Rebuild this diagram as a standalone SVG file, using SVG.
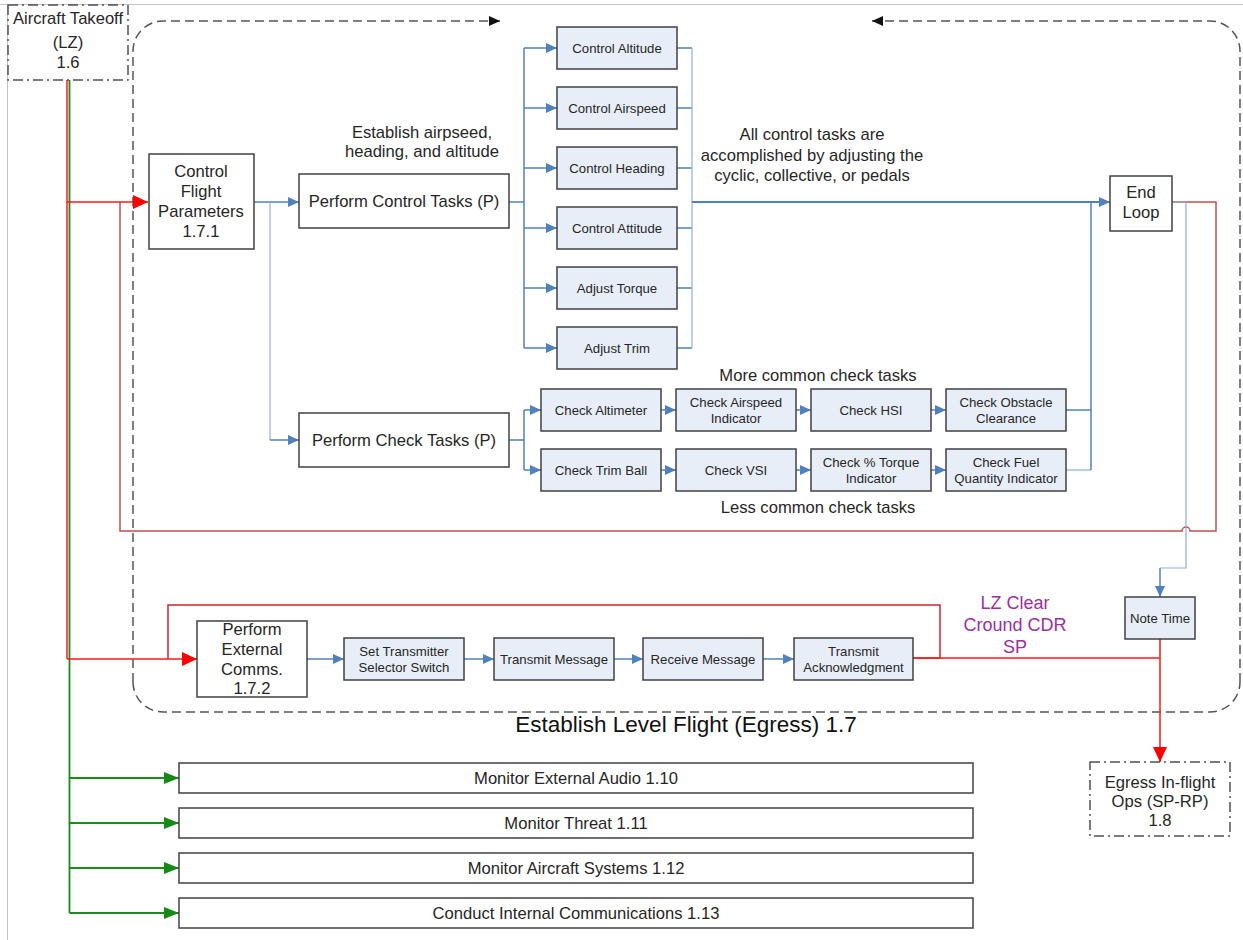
<svg xmlns="http://www.w3.org/2000/svg" width="1243" height="940" viewBox="0 0 1243 940">
  <defs>
    <style>
      text { font-family: "Liberation Sans", Arial, sans-serif; fill: #262626; text-anchor: middle; }
      .t16 { font-size: 16.6px; }
      .t13 { font-size: 13.2px; }
      .title { font-size: 22.5px; fill: #111; }
      .purple { font-size: 18px; fill: #9b2f9e; }
      .box { fill: #ffffff; stroke: #404040; stroke-width: 1.5; }
      .task { fill: #e8eef8; stroke: #404040; stroke-width: 1.5; }
      .ext { fill: #ffffff; stroke: #505050; stroke-width: 1.5; stroke-dasharray: 10 4 2 4; }
      .frame { stroke: #c4c4c4; stroke-width: 1; fill: none; }
      .group { fill: none; stroke: #555555; stroke-width: 1.5; stroke-dasharray: 9 5; }
      .blue { fill: none; stroke: #4f81bd; stroke-width: 1.5; }
      .blue-thick { fill: none; stroke: #4f81bd; stroke-width: 2.2; }
      .blue-thin { fill: none; stroke: #8eb0e0; stroke-width: 1.2; }
      .red { fill: none; stroke: #ff1a1a; stroke-width: 1.5; }
      .darkred { fill: none; stroke: #c0504d; stroke-width: 1.5; }
      .loopred { fill: none; stroke: #c8282a; stroke-width: 1.5; }
      .green { fill: none; stroke: #1a8c1a; stroke-width: 1.8; }
    </style>
    <marker id="arrBlue" markerUnits="userSpaceOnUse" markerWidth="12" markerHeight="10" refX="11" refY="5" orient="auto">
      <path d="M0,0 L11,5 L0,10 Z" fill="#4f81bd"/>
    </marker>
    <marker id="arrRed" markerUnits="userSpaceOnUse" markerWidth="16" markerHeight="14" refX="15" refY="7" orient="auto">
      <path d="M0,0 L15,7 L0,14 Z" fill="#ff0000"/>
    </marker>
    <marker id="arrGreen" markerUnits="userSpaceOnUse" markerWidth="16" markerHeight="14" refX="15" refY="6" orient="auto">
      <path d="M0,0 L15,6 L0,12 Z" fill="#158a15"/>
    </marker>
    <marker id="arrBlack" markerUnits="userSpaceOnUse" markerWidth="12" markerHeight="10" refX="11" refY="5" orient="auto">
      <path d="M0,0 L11,5 L0,10 Z" fill="#111111"/>
    </marker>
  </defs>

  <rect width="1243" height="940" fill="#ffffff"/>

  <!-- page frame -->
  <line class="frame" x1="0" y1="4.5" x2="1243" y2="4.5"/>
  <line class="frame" x1="7.5" y1="4" x2="7.5" y2="940"/>

  <!-- level-flight container (dashed, open at the top with loop arrows) -->
  <g id="container-1-7">
    <path class="group" d="M133,682 L133,51 A30,30 0 0 1 163,21 L500,21" marker-end="url(#arrBlack)"/>
    <path class="group" d="M1240,682 L1240,51 A30,30 0 0 0 1210,21 L872,21" marker-end="url(#arrBlack)"/>
    <path class="group" d="M133,682 A30,30 0 0 0 163,712 L1210,712 A30,30 0 0 0 1240,682"/>
    <text class="title" x="686" y="732">Establish Level Flight (Egress) 1.7</text>
  </g>

  <!-- connectors -->
  <g id="connectors">
    <!-- from takeoff: red feeds into the level-flight functions, green into monitoring -->
    <line class="red" x1="67" y1="80" x2="67" y2="659"/>
    <line class="green" x1="69.5" y1="80" x2="69.5" y2="913"/>
    <path class="red" d="M67,202 L148,202" marker-end="url(#arrRed)"/>
    <path class="red" d="M67,659 L197,659" marker-end="url(#arrRed)"/>
    <path class="green" d="M69.5,778 L179,778" marker-end="url(#arrGreen)"/>
    <path class="green" d="M69.5,823 L179,823" marker-end="url(#arrGreen)"/>
    <path class="green" d="M69.5,868 L179,868" marker-end="url(#arrGreen)"/>
    <path class="green" d="M69.5,913 L179,913" marker-end="url(#arrGreen)"/>

    <!-- control flight parameters to task groups -->
    <path class="blue" d="M254,202 L299,202" marker-end="url(#arrBlue)"/>
    <path class="blue-thin" d="M270,202 L270,440"/>
    <path class="blue" d="M270,440 L299,440" marker-end="url(#arrBlue)"/>

    <!-- control task fan-out -->
    <path class="blue" d="M509,202 L524,202"/>
    <path class="blue" d="M524,48 L524,348"/>
    <path class="blue" d="M524,48 L557,48" marker-end="url(#arrBlue)"/>
    <path class="blue" d="M524,108 L557,108" marker-end="url(#arrBlue)"/>
    <path class="blue" d="M524,168 L557,168" marker-end="url(#arrBlue)"/>
    <path class="blue" d="M524,228 L557,228" marker-end="url(#arrBlue)"/>
    <path class="blue" d="M524,288 L557,288" marker-end="url(#arrBlue)"/>
    <path class="blue" d="M524,348 L557,348" marker-end="url(#arrBlue)"/>

    <!-- control task fan-in -->
    <path class="blue" d="M677,48 L692,48 M677,108 L692,108 M677,168 L692,168 M677,228 L692,228 M677,288 L692,288 M677,348 L692,348"/>
    <path class="blue-thin" d="M692,48 L692,348"/>
    <path class="blue-thick" d="M692,202 L1110,202" marker-end="url(#arrBlue)"/>

    <!-- check task rows -->
    <path class="blue" d="M509,440 L524,440 M524,410 L524,470"/>
    <path class="blue" d="M524,410 L541,410" marker-end="url(#arrBlue)"/>
    <path class="blue" d="M524,470 L541,470" marker-end="url(#arrBlue)"/>
    <path class="blue" d="M661,410 L676,410" marker-end="url(#arrBlue)"/>
    <path class="blue" d="M796,410 L811,410" marker-end="url(#arrBlue)"/>
    <path class="blue" d="M931,410 L946,410" marker-end="url(#arrBlue)"/>
    <path class="blue" d="M661,470 L676,470" marker-end="url(#arrBlue)"/>
    <path class="blue" d="M796,470 L811,470" marker-end="url(#arrBlue)"/>
    <path class="blue" d="M931,470 L946,470" marker-end="url(#arrBlue)"/>
    <path class="blue" d="M1066,410 L1091,410"/>
    <path class="blue-thin" d="M1066,470 L1091,470"/>
    <path class="blue" d="M1091,470 L1091,202"/>

    <!-- loop back from End Loop -->
    <path class="darkred" d="M1172,202 L1216,202 L1216,531 L1190,531 A4,4 0 0 0 1182,531 L120,531 L120,202"/>
    <path class="blue-thin" d="M1172,202 L1186,202 L1186,568 L1160,568"/>
    <path class="blue" d="M1160,568 L1160,597" marker-end="url(#arrBlue)"/>

    <!-- external comms chain -->
    <path class="blue" d="M307,659 L344,659" marker-end="url(#arrBlue)"/>
    <path class="blue" d="M464,659 L494,659" marker-end="url(#arrBlue)"/>
    <path class="blue" d="M614,659 L643,659" marker-end="url(#arrBlue)"/>
    <path class="blue" d="M763,659 L794,659" marker-end="url(#arrBlue)"/>
    <path class="loopred" d="M913,658 L940,658 L940,605 L168,605 L168,659"/>
    <path class="red" d="M913,658 L1160,658"/>

    <!-- exit to egress in-flight ops -->
    <path class="red" d="M1160,639 L1160,762" marker-end="url(#arrRed)"/>
  </g>

  <!-- free labels -->
  <g id="labels">
    <text class="t16" x="422" y="138">Establish airpseed,</text>
    <text class="t16" x="422" y="157">heading, and altitude</text>
    <text class="t16" x="812" y="140">All control tasks are</text>
    <text class="t16" x="812" y="161">accomplished by adjusting the</text>
    <text class="t16" x="812" y="181">cyclic, collective, or pedals</text>
    <text class="t16" x="818" y="381">More common check tasks</text>
    <text class="t16" x="818" y="513">Less common check tasks</text>
    <text class="purple" x="1015" y="609">LZ Clear</text>
    <text class="purple" x="1015" y="631">Cround CDR</text>
    <text class="purple" x="1015" y="653">SP</text>
  </g>

  <!-- nodes -->
  <g id="aircraft-takeoff">
    <rect class="ext" x="8" y="5" width="120" height="75"/>
    <text class="t16" x="68" y="24">Aircraft Takeoff</text>
    <text class="t16" x="68" y="48">(LZ)</text>
    <text class="t16" x="68" y="68">1.6</text>
  </g>

  <g id="control-flight-parameters">
    <rect class="box" x="149" y="154" width="105" height="95"/>
    <text class="t16" x="201" y="177">Control</text>
    <text class="t16" x="201" y="197">Flight</text>
    <text class="t16" x="201" y="217">Parameters</text>
    <text class="t16" x="201" y="237">1.7.1</text>
  </g>

  <g id="perform-control-tasks">
    <rect class="box" x="299" y="174" width="210" height="54"/>
    <text class="t16" x="404" y="207">Perform Control Tasks (P)</text>
  </g>

  <g id="perform-check-tasks">
    <rect class="box" x="299" y="413" width="210" height="54"/>
    <text class="t16" x="404" y="446">Perform Check Tasks (P)</text>
  </g>

  <g id="control-altitude"><rect class="task" x="557" y="27" width="120" height="42"/><text class="t13" x="617" y="52.5">Control Altitude</text></g>
  <g id="control-airspeed"><rect class="task" x="557" y="87" width="120" height="42"/><text class="t13" x="617" y="112.5">Control Airspeed</text></g>
  <g id="control-heading"><rect class="task" x="557" y="147" width="120" height="42"/><text class="t13" x="617" y="172.5">Control Heading</text></g>
  <g id="control-attitude"><rect class="task" x="557" y="207" width="120" height="42"/><text class="t13" x="617" y="232.5">Control Attitude</text></g>
  <g id="adjust-torque"><rect class="task" x="557" y="267" width="120" height="42"/><text class="t13" x="617" y="292.5">Adjust Torque</text></g>
  <g id="adjust-trim"><rect class="task" x="557" y="327" width="120" height="42"/><text class="t13" x="617" y="352.5">Adjust Trim</text></g>

  <g id="check-altimeter"><rect class="task" x="541" y="389" width="120" height="42"/><text class="t13" x="601" y="414.5">Check Altimeter</text></g>
  <g id="check-airspeed-indicator"><rect class="task" x="676" y="389" width="120" height="42"/><text class="t13" x="736" y="406.5">Check Airspeed</text><text class="t13" x="736" y="422.5">Indicator</text></g>
  <g id="check-hsi"><rect class="task" x="811" y="389" width="120" height="42"/><text class="t13" x="871" y="414.5">Check HSI</text></g>
  <g id="check-obstacle-clearance"><rect class="task" x="946" y="389" width="120" height="42"/><text class="t13" x="1006" y="406.5">Check Obstacle</text><text class="t13" x="1006" y="422.5">Clearance</text></g>

  <g id="check-trim-ball"><rect class="task" x="541" y="449" width="120" height="42"/><text class="t13" x="601" y="474.5">Check Trim Ball</text></g>
  <g id="check-vsi"><rect class="task" x="676" y="449" width="120" height="42"/><text class="t13" x="736" y="474.5">Check VSI</text></g>
  <g id="check-torque-indicator"><rect class="task" x="811" y="449" width="120" height="42"/><text class="t13" x="871" y="466.5">Check % Torque</text><text class="t13" x="871" y="482.5">Indicator</text></g>
  <g id="check-fuel-quantity"><rect class="task" x="946" y="449" width="120" height="42"/><text class="t13" x="1006" y="466.5">Check Fuel</text><text class="t13" x="1006" y="482.5">Quantity Indicator</text></g>

  <g id="end-loop">
    <rect class="box" x="1110" y="176" width="62" height="55"/>
    <text class="t16" x="1141" y="198">End</text>
    <text class="t16" x="1141" y="218">Loop</text>
  </g>

  <g id="note-time">
    <rect class="task" x="1125" y="597" width="70" height="42"/>
    <text class="t13" x="1160" y="622.5">Note Time</text>
  </g>

  <g id="perform-external-comms">
    <rect class="box" x="197" y="621" width="110" height="76"/>
    <text class="t16" x="252" y="635">Perform</text>
    <text class="t16" x="252" y="655">External</text>
    <text class="t16" x="252" y="675">Comms.</text>
    <text class="t16" x="252" y="694">1.7.2</text>
  </g>

  <g id="set-transmitter"><rect class="task" x="344" y="638" width="120" height="42"/><text class="t13" x="404" y="655.5">Set Transmitter</text><text class="t13" x="404" y="671.5">Selector Switch</text></g>
  <g id="transmit-message"><rect class="task" x="494" y="638" width="120" height="42"/><text class="t13" x="554" y="663.5">Transmit Message</text></g>
  <g id="receive-message"><rect class="task" x="643" y="638" width="120" height="42"/><text class="t13" x="703" y="663.5">Receive Message</text></g>
  <g id="transmit-acknowledgment"><rect class="task" x="794" y="638" width="119" height="42"/><text class="t13" x="853.5" y="655.5">Transmit</text><text class="t13" x="853.5" y="671.5">Acknowledgment</text></g>

  <g id="egress-inflight-ops">
    <rect class="ext" x="1090" y="762" width="140" height="74"/>
    <text class="t16" x="1160" y="788">Egress In-flight</text>
    <text class="t16" x="1160" y="807">Ops (SP-RP)</text>
    <text class="t16" x="1160" y="826">1.8</text>
  </g>

  <g id="monitor-external-audio"><rect class="box" x="179" y="763" width="794" height="30"/><text class="t16" x="576" y="784">Monitor External Audio 1.10</text></g>
  <g id="monitor-threat"><rect class="box" x="179" y="808" width="794" height="30"/><text class="t16" x="576" y="829">Monitor Threat 1.11</text></g>
  <g id="monitor-aircraft-systems"><rect class="box" x="179" y="853" width="794" height="30"/><text class="t16" x="576" y="874">Monitor Aircraft Systems 1.12</text></g>
  <g id="internal-communications"><rect class="box" x="179" y="898" width="794" height="30"/><text class="t16" x="576" y="919">Conduct Internal Communications 1.13</text></g>
</svg>
